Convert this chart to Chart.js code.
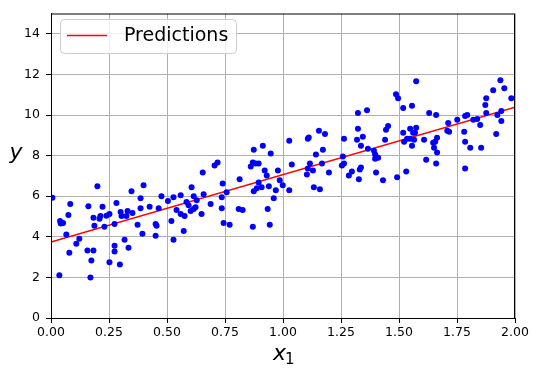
<!DOCTYPE html>
<html>
<head>
<meta charset="utf-8">
<script src="https://cdn.jsdelivr.net/npm/chart.js@4/dist/chart.umd.min.js"></script>
<style>
  html, body { margin: 0; padding: 0; background: #fff; }
  #wrap { width: 540px; height: 376px; position: relative; }
</style>
</head>
<body>
<div id="wrap"><canvas id="chart" width="540" height="376"></canvas></div>
<script>
// scatter samples (x1, y)
const xValues = [
  0.006, 0.036, 0.039, 0.042, 0.052, 0.066, 0.075, 0.079, 0.083, 0.109,
  0.122, 0.157, 0.161, 0.170, 0.174, 0.183, 0.183, 0.187, 0.200, 0.209,
  0.213, 0.222, 0.230, 0.239, 0.252, 0.252, 0.274, 0.274, 0.274, 0.282,
  0.297, 0.300, 0.304, 0.317, 0.325, 0.330, 0.334, 0.347, 0.351, 0.373,
  0.386, 0.386, 0.394, 0.399, 0.425, 0.451, 0.455, 0.451, 0.464, 0.476,
  0.504, 0.519, 0.528, 0.528, 0.541, 0.559, 0.559, 0.572, 0.576, 0.584,
  0.593, 0.602, 0.606, 0.615, 0.615, 0.623, 0.628, 0.649, 0.654, 0.658,
  0.688, 0.705, 0.718, 0.736, 0.736, 0.740, 0.744, 0.757, 0.770, 0.809,
  0.813, 0.826, 0.861, 0.870, 0.874, 0.870, 0.874, 0.882, 0.887, 0.895,
  0.895, 0.908, 0.913, 0.921, 0.930, 0.934, 0.939, 0.943, 0.947, 0.960,
  0.969, 0.978, 0.986, 0.999, 1.027, 1.027, 1.038, 1.103, 1.107, 1.111,
  1.107, 1.116, 1.129, 1.133, 1.142, 1.155, 1.159, 1.168, 1.172, 1.181,
  1.198, 1.254, 1.263, 1.258, 1.263, 1.284, 1.297, 1.319, 1.323, 1.323,
  1.327, 1.331, 1.336, 1.336, 1.344, 1.362, 1.366, 1.392, 1.397, 1.397,
  1.410, 1.401, 1.431, 1.440, 1.444, 1.453, 1.487, 1.496, 1.492, 1.518,
  1.518, 1.522, 1.531, 1.535, 1.574, 1.556, 1.548, 1.574, 1.561, 1.569,
  1.548, 1.565, 1.556, 1.608, 1.630, 1.660, 1.647, 1.656, 1.664, 1.651,
  1.664, 1.617, 1.660, 1.712, 1.708, 1.716, 1.751, 1.781, 1.785, 1.794,
  1.785, 1.807, 1.785, 1.820, 1.837, 1.850, 1.854, 1.876, 1.872, 1.876,
  1.906, 1.937, 1.954, 1.984, 1.924, 1.941, 1.941, 1.919
];
const yValues = [
  5.92, 2.10, 4.78, 4.65, 4.68, 4.11, 5.07, 3.22, 5.61, 3.66,
  3.90, 3.32, 5.51, 2.00, 2.83, 3.32, 4.94, 4.54, 6.49, 4.89,
  5.02, 5.48, 4.50, 5.04, 5.12, 2.75, 4.63, 3.56, 3.27, 5.66,
  2.63, 5.22, 5.02, 3.85, 5.02, 5.27, 3.46, 6.24, 5.17, 4.59,
  5.90, 5.41, 4.15, 6.54, 5.48, 4.63, 4.55, 4.05, 5.41, 6.00,
  5.76, 4.78, 5.95, 3.85, 5.32, 6.05, 5.12, 4.29, 5.02, 5.71,
  5.56, 5.27, 6.44, 6.00, 5.37, 5.46, 5.80, 5.12, 7.17, 6.10,
  5.61, 7.51, 7.66, 5.95, 5.41, 6.63, 4.68, 6.20, 4.59, 5.37,
  6.83, 5.32, 7.46, 7.66, 8.29, 4.49, 6.24, 7.61, 6.39, 7.61,
  6.68, 6.44, 8.49, 7.27, 7.02, 5.37, 6.49, 4.59, 8.10, 5.90,
  6.29, 7.27, 6.78, 6.54, 8.73, 6.29, 7.56, 7.07, 8.83, 8.89,
  7.37, 7.61, 7.27, 6.44, 8.05, 9.22, 6.34, 7.61, 8.29, 9.07,
  7.17, 7.51, 7.61, 7.95, 8.83, 7.02, 7.22, 8.78, 9.32, 10.10,
  6.83, 7.32, 7.41, 8.49, 8.93, 10.24, 8.34, 8.24, 8.05, 7.85,
  7.90, 7.17, 6.78, 8.78, 9.27, 9.46, 11.02, 10.83, 6.93, 10.34,
  9.12, 8.68, 7.22, 8.83, 11.66, 10.45, 9.32, 9.37, 9.12, 9.12,
  8.83, 8.78, 8.49, 8.78, 10.10, 10.00, 8.63, 8.68, 8.88, 8.39,
  8.15, 7.80, 7.61, 9.61, 9.22, 9.17, 9.76, 9.17, 9.95, 10.00,
  8.68, 8.39, 7.37, 9.76, 9.80, 9.51, 8.39, 10.83, 10.49, 10.10,
  11.22, 11.71, 11.32, 10.83, 10.00, 10.20, 9.71, 9.07
];

// fitted line end points
const predX = [0, 2];
const predY = [3.74, 10.38];

const xTicks = [0, 0.25, 0.5, 0.75, 1, 1.25, 1.5, 1.75, 2];
const yTicks = [0, 2, 4, 6, 8, 10, 12, 14];
const legendLabel = 'Predictions';

const FONT = "'DejaVu Sans', sans-serif";

// top/right spines, axis labels and legend box like matplotlib
const decorPlugin = {
  id: 'decor',
  afterDraw(chart) {
    const ctx = chart.ctx;
    const a = chart.chartArea;
    ctx.save();
    ctx.strokeStyle = '#000';
    ctx.lineWidth = 1;
    ctx.strokeRect(a.left + 0.5, a.top + 0.5, a.right - a.left - 1, a.bottom - a.top);

    // y label
    ctx.fillStyle = '#000';
    ctx.font = "italic 22px " + FONT;
    ctx.textAlign = 'center';
    ctx.textBaseline = 'alphabetic';
    ctx.fillText('y', 16, 159);

    // x label with subscript
    const cx = (a.left + a.right) / 2;
    ctx.textAlign = 'left';
    ctx.fillText('x', cx - 10, 360);
    ctx.font = "15px " + FONT;
    ctx.fillText('1', cx + 2, 364);

    // legend
    ctx.beginPath();
    ctx.roundRect(60.5, 19.5, 176, 34, 4);
    ctx.fillStyle = 'rgba(255,255,255,0.8)';
    ctx.fill();
    ctx.strokeStyle = '#cccccc';
    ctx.stroke();
    ctx.beginPath();
    ctx.moveTo(67, 35.5);
    ctx.lineTo(107, 35.5);
    ctx.strokeStyle = '#ff0000';
    ctx.lineWidth = 1.5;
    ctx.stroke();
    ctx.fillStyle = '#000';
    ctx.font = "19px " + FONT;
    ctx.textBaseline = 'middle';
    ctx.fillText(legendLabel, 124, 36);
    ctx.restore();
  }
};

const points = xValues.map((x, i) => ({ x: x, y: yValues[i] }));
const line = predX.map((x, i) => ({ x: x, y: predY[i] }));

const ctx = document.getElementById('chart').getContext('2d');
new Chart(ctx, {
  type: 'scatter',
  data: {
    datasets: [
      {
        label: 'data',
        data: points,
        backgroundColor: '#0000ff',
        borderWidth: 0,
        pointRadius: 3,
        order: 0
      },
      {
        label: legendLabel,
        type: 'line',
        data: line,
        borderColor: '#ff0000',
        borderWidth: 1.5,
        pointRadius: 0,
        fill: false,
        order: 1
      }
    ]
  },
  options: {
    responsive: false,
    animation: false,
    devicePixelRatio: 1,
    layout: { padding: { left: 0, right: 25, top: 11, bottom: 0 } },
    plugins: {
      legend: { display: false },
      tooltip: { enabled: false }
    },
    scales: {
      x: {
        type: 'linear',
        min: 0,
        max: 2,
        afterBuildTicks: s => { s.ticks = xTicks.map(v => ({ value: v })); },
        afterFit: s => { s.height = 58; },
        ticks: {
          color: '#000',
          font: { family: FONT, size: 12.5 },
          padding: 2,
          maxRotation: 0,
          callback: v => v.toFixed(2)
        },
        grid: { color: '#b0b0b0', lineWidth: 1, tickLength: 5, tickColor: '#000' },
        border: { color: '#000', width: 1 }
      },
      y: {
        type: 'linear',
        min: 0,
        max: 15,
        afterBuildTicks: s => { s.ticks = yTicks.map(v => ({ value: v })); },
        afterFit: s => { s.width = 51; },
        ticks: {
          color: '#000',
          font: { family: FONT, size: 12.5 },
          padding: 6,
          callback: v => String(v)
        },
        grid: { color: '#b0b0b0', lineWidth: 1, tickLength: 5, tickColor: '#000' },
        border: { color: '#000', width: 1 }
      }
    }
  },
  plugins: [decorPlugin]
});
</script>
</body>
</html>
